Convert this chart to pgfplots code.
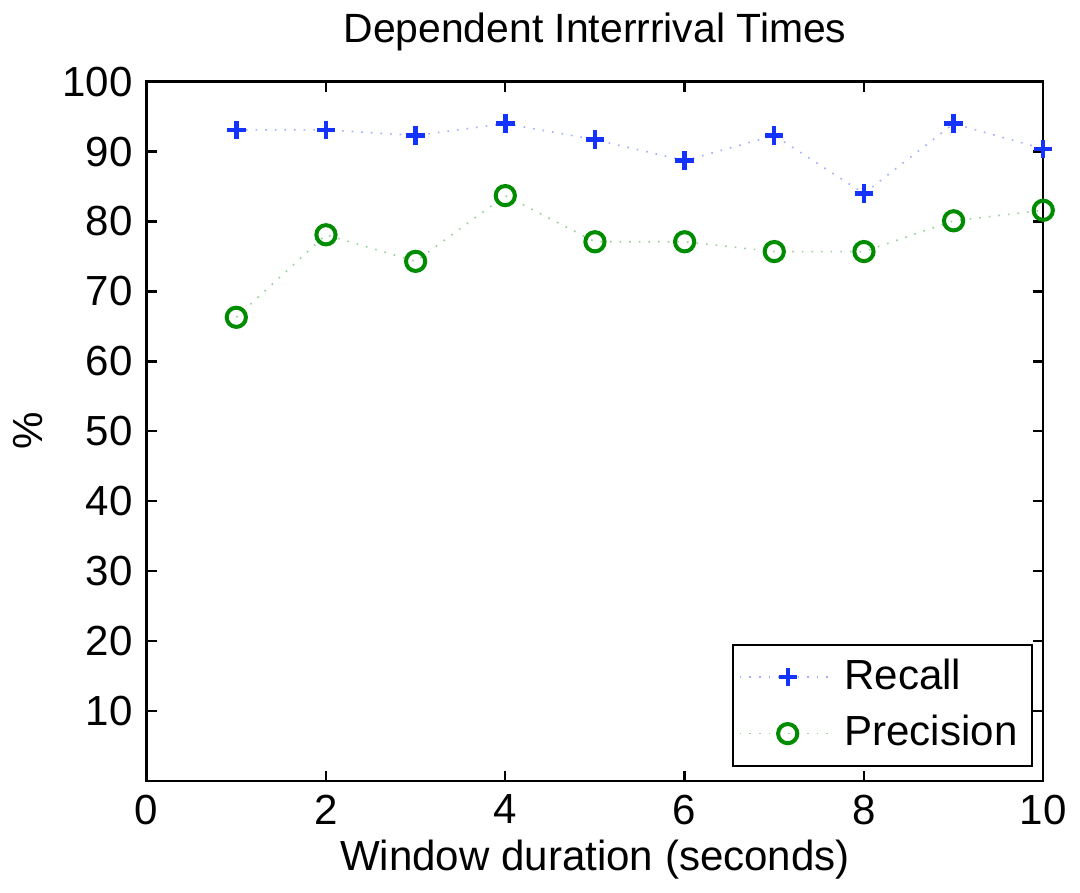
\documentclass[border=0pt]{standalone}
\usepackage{fontspec}
\setmainfont{Liberation Sans}
\usepackage{pgfplots}
\pgfplotsset{compat=1.18}
\definecolor{mblue}{rgb}{0.08,0.2,1}
\definecolor{mgreen}{rgb}{0,0.55,0}
\begin{document}
\begin{tikzpicture}
\begin{axis}[
    scale only axis,
    width=223.75pt, height=174.5pt,
    xmin=0, xmax=10, ymin=0, ymax=100,
    xtick={0,2,...,10},
    ytick={10,20,...,100},
    tick align=inside,
    major tick length=2.5pt,
    axis line style={line width=0.6pt},
    tick style={line width=0.6pt, black},
    tick label style={font=\fontsize{10.5}{12}\selectfont},
    /pgf/number format/assume math mode=true,
    title={Dependent Interrrival Times},
    title style={font=\fontsize{10.2}{12}\selectfont, yshift=-2pt},
    xlabel={Window duration (seconds)},
    ylabel={\%},
    xlabel style={font=\fontsize{10.5}{12}\selectfont, yshift=3pt},
    ylabel style={font=\fontsize{10.5}{12}\selectfont, yshift=-2pt},
    legend style={at={(0.988,0.02)}, anchor=south east, draw=black,
        line width=0.5pt, font=\fontsize{10.5}{12}\selectfont,
        inner sep=1.5pt, row sep=1pt},
    legend image code/.code={
        \draw[mark repeat=2, mark phase=2]
        plot coordinates {(0cm,0cm) (0.42cm,0cm) (0.84cm,0cm)};},
    legend cell align=left,
]
\addplot[mblue!40, dotted, thin, mark=+, mark size=2.3pt,
    mark options={solid, mblue, line width=1.1pt}]
    coordinates {(1,93.1) (2,93.1) (3,92.3) (4,94.0) (5,91.7) (6,88.7) (7,92.3) (8,84.0) (9,94.0) (10,90.4)};
\addlegendentry{Recall}
\addplot[mgreen!40, dotted, thin, mark=o, mark size=2.4pt,
    mark options={solid, mgreen, line width=1pt}]
    coordinates {(1,66.3) (2,78.1) (3,74.3) (4,83.7) (5,77.1) (6,77.1) (7,75.7) (8,75.7) (9,80.1) (10,81.6)};
\addlegendentry{Precision}
\end{axis}
\end{tikzpicture}
\end{document}
